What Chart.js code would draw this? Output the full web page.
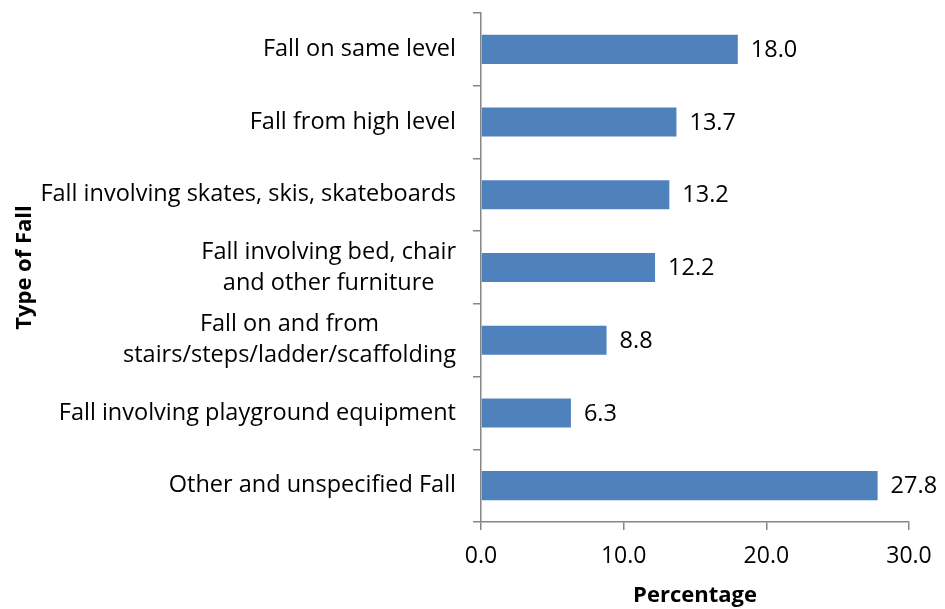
<!DOCTYPE html>
<html>
<head>
<meta charset="utf-8">
<script src="https://cdn.jsdelivr.net/npm/chart.js@4/dist/chart.umd.min.js"></script>
<style>
  html, body { margin: 0; padding: 0; background: #fff; }
  #wrap { width: 945px; height: 609px; }
</style>
</head>
<body>
<div id="wrap"><canvas id="fallChart"></canvas></div>
<script>
// tipos de caida y porcentajes
const categorias = [
  'Fall on same level',
  'Fall from high level',
  'Fall involving skates, skis, skateboards',
  ['Fall involving bed, chair', 'and other furniture'],
  ['Fall on and from', 'stairs/steps/ladder/scaffolding'],
  'Fall involving playground equipment',
  'Other and unspecified Fall'
];
const porcentajes = [18.0, 13.7, 13.2, 12.2, 8.8, 6.3, 27.8];
const ticksX = [0, 10, 20, 30];

const fuente = 'Open Sans';
const tamLetra = 23.5;
const gris = '#868686';

// etiquetas del eje y, lineas centradas entre si y alineadas a la derecha
const etiquetasY = {
  id: 'etiquetasY',
  afterDraw(chart) {
    const ctx = chart.ctx;
    const y = chart.scales.y;
    const derecha = y.right - 25;
    ctx.save();
    ctx.font = tamLetra + 'px "' + fuente + '"';
    ctx.fillStyle = '#000';
    ctx.textBaseline = 'middle';
    ctx.textAlign = 'center';
    const alto = 31;
    categorias.forEach((cat, i) => {
      const lineas = Array.isArray(cat) ? cat : [cat];
      const ancho = Math.max(...lineas.map(l => ctx.measureText(l).width));
      const cx = derecha - ancho / 2;
      const cy = y.getPixelForValue(i);
      lineas.forEach((l, j) => {
        ctx.fillText(l, cx, cy + (j - (lineas.length - 1) / 2) * alto);
      });
    });
    ctx.restore();
  }
};

// valores al final de cada barra
const valores = {
  id: 'valores',
  afterDatasetsDraw(chart) {
    const ctx = chart.ctx;
    const meta = chart.getDatasetMeta(0);
    ctx.save();
    ctx.font = tamLetra + 'px "' + fuente + '"';
    ctx.fillStyle = '#000';
    ctx.textBaseline = 'middle';
    ctx.textAlign = 'left';
    meta.data.forEach((bar, i) => {
      ctx.fillText(porcentajes[i].toFixed(1), bar.x + 13, bar.y + 1);
    });
    ctx.restore();
  }
};

const ctx = document.getElementById('fallChart').getContext('2d');
new Chart(ctx, {
  type: 'bar',
  data: {
    labels: categorias,
    datasets: [{
      label: 'Percentage',
      data: porcentajes,
      backgroundColor: '#4F81BD',
      borderWidth: 0,
      barPercentage: 0.4,
      categoryPercentage: 1.0
    }]
  },
  options: {
    indexAxis: 'y',
    responsive: true,
    maintainAspectRatio: false,
    animation: false,
    layout: { padding: { top: 13, right: 36, left: 0, bottom: 0 } },
    plugins: {
      legend: { display: false },
      tooltip: { enabled: false }
    },
    scales: {
      x: {
        min: 0,
        max: 30,
        afterBuildTicks: (axis) => { axis.ticks = ticksX.map(v => ({ value: v })); },
        afterFit: (axis) => { axis.height = 87; },
        border: { color: gris, width: 1.5 },
        grid: { drawOnChartArea: false, color: gris, tickLength: 8, lineWidth: 1.5 },
        ticks: {
          color: '#000',
          padding: 13,
          font: { family: fuente, size: 23 },
          callback: (v) => Number(v).toFixed(1)
        },
        title: {
          display: true,
          text: 'Percentage',
          color: '#000',
          font: { family: fuente, size: 22, weight: 'bold' },
          padding: { top: 0, bottom: 0 }
        }
      },
      y: {
        afterFit: (axis) => { axis.width = 481; },
        border: { color: gris, width: 1.5 },
        grid: { drawOnChartArea: false, color: gris, tickLength: 8, lineWidth: 1.5, offset: true },
        ticks: { display: false },
        title: {
          display: true,
          text: 'Type of Fall',
          color: '#000',
          font: { family: fuente, size: 22, weight: 'bold' },
          padding: { top: 12, bottom: 0 }
        }
      }
    }
  },
  plugins: [etiquetasY, valores]
});
</script>
</body>
</html>
